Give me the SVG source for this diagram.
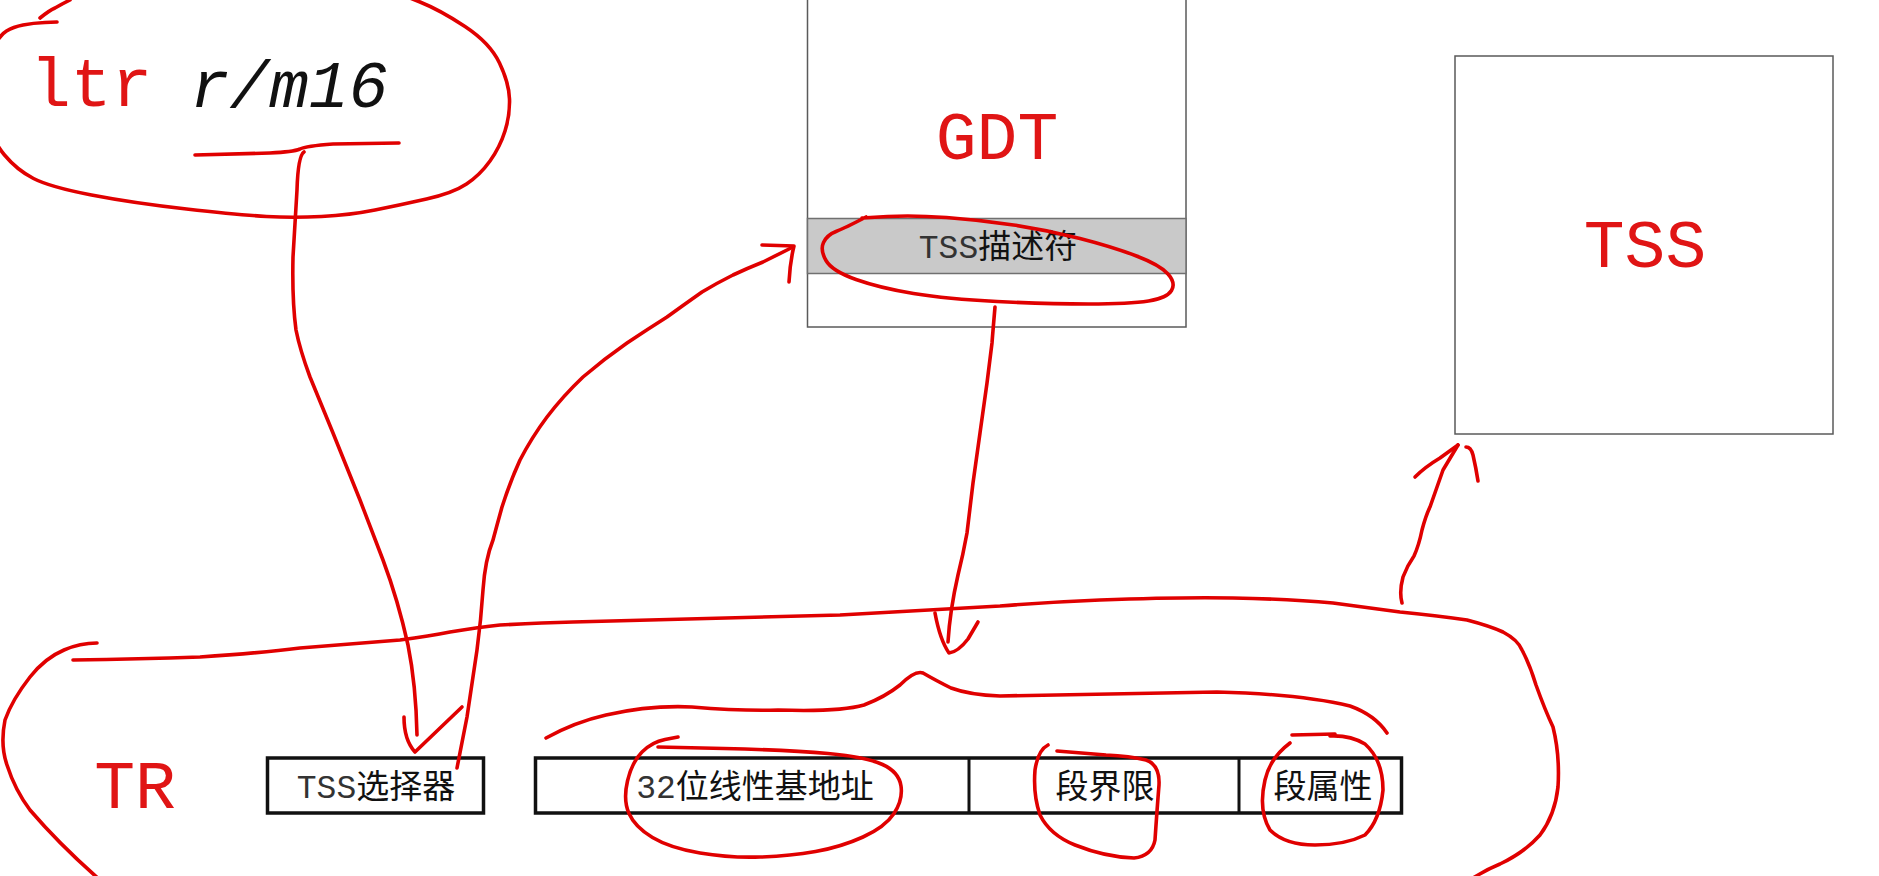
<svg xmlns="http://www.w3.org/2000/svg" width="1879" height="876" viewBox="0 0 1879 876">
<style>
.bg{fill:#ffffff}
.thin{fill:#ffffff;stroke:#5a5a5a;stroke-width:1.5}
.band{fill:#c9c9c9;stroke:#707070;stroke-width:1.5}
.thick{fill:#ffffff;stroke:#111111;stroke-width:3.5}
.div{stroke:#111111;stroke-width:3}
.big{font-family:"Liberation Mono","DejaVu Sans Mono",monospace;fill:#e01515;font-size:68px}
.cell{font-family:"Liberation Mono","Noto Sans CJK SC",monospace;font-size:33px;fill:#111111}
.mono{fill:#333333}
.pen{fill:none;stroke:#e00000;stroke-width:3.6;stroke-linecap:round;stroke-linejoin:round}
</style>
<rect class="bg" x="0" y="0" width="1879" height="876"/>

<g id="ltr-instruction">
  <text class="big" x="30" y="106" font-size="66">ltr</text>
  <text x="190" y="107" font-family="Liberation Mono,monospace" font-style="italic" font-size="66" fill="#111111">r/m16</text>
</g>

<g id="gdt">
  <rect class="thin" x="807.5" y="-5" width="378.5" height="332"/>
  <text class="big" x="997" y="159" text-anchor="middle">GDT</text>
  <rect class="band" x="807.5" y="218.5" width="378.5" height="55"/>
  <text class="cell" x="998" y="258" text-anchor="middle" font-size="34"><tspan class="mono">TSS</tspan>描述符</text>
</g>

<g id="tss">
  <rect class="thin" x="1455" y="56" width="378" height="378"/>
  <text class="big" x="1645" y="267" text-anchor="middle">TSS</text>
</g>

<g id="tr-label">
  <text class="big" x="135" y="808" text-anchor="middle" font-size="72">TR</text>
</g>

<g id="tss-selector">
  <rect class="thick" x="267.5" y="758" width="216" height="55"/>
  <text class="cell" x="376" y="798" text-anchor="middle"><tspan class="mono">TSS</tspan>选择器</text>
</g>

<g id="tr-cache">
  <rect class="thick" x="535.5" y="758" width="866" height="55"/>
  <line class="div" x1="969" y1="758" x2="969" y2="813"/>
  <line class="div" x1="1239" y1="758" x2="1239" y2="813"/>
  <g id="base-address"><text class="cell" x="755" y="798" text-anchor="middle" font-size="34"><tspan class="mono">32</tspan>位线性基地址</text></g>
  <g id="limit"><text class="cell" x="1105" y="798" text-anchor="middle" font-size="34">段界限</text></g>
  <g id="attributes"><text class="cell" x="1323" y="798" text-anchor="middle" font-size="34">段属性</text></g>
</g>

<g id="annotations">
  <path class="pen" d="M40,18 Q50,10 55,8 Q62,4 70,0"/>
  <path class="pen" d="M57,22 L45,22.5 Q33,23 23,25 Q13,27 6.5,31 Q0,35 -7,47.5 Q-14,60 -16,80 Q-18,100 -13,120 Q-8,140 4.5,155 Q17,170 33.5,178.5 Q50,187 91.5,195 Q133,203 186.5,209 Q240,215 266.5,216.5 Q293,218 321.5,216.5 Q350,215 375,210 Q400,205 426.5,199 Q453,193 466.5,184 Q480,175 490,161 Q500,147 505,131 Q510,115 509.5,99 Q509,83 499.5,63 Q490,43 465,26.5 Q440,10 420,2 L400,-6"/>
  <path class="pen" d="M195,155 L270,153 Q293,152 300,149 Q306,146 333,144 L399,143"/>
  <path class="pen" d="M862,218 L887.5,216.5 Q913,215 946.5,217.5 Q980,220 1013.5,225 Q1047,230 1080,238.5 Q1113,247 1136.5,256 Q1160,265 1168,274 Q1176,283 1171.5,290.5 Q1167,298 1148.5,301 Q1130,304 1088.5,304 Q1047,304 997,301.5 Q947,299 913.5,293.5 Q880,288 856,279.5 Q832,271 826,260.5 Q820,250 823.5,242.5 Q827,235 836,231.5 Q845,228 866,217"/>
  <path class="pen" d="M546,738 Q575,722 606,715 Q650,705 692,707 Q740,711 778,710 Q840,712 864,705 Q885,697 900,685 Q915,670 923,673 Q935,680 951,688 Q970,695 1000,696 Q1100,694 1217,692 Q1300,694 1350,706 Q1375,715 1387,733"/>
  <path class="pen" d="M678,737 L665,739.5 Q652,742 642,752 Q632,762 627.5,781 Q623,800 629,813.5 Q635,827 652.5,837.5 Q670,848 700,853 Q730,858 760,857 Q790,856 815.5,851.5 Q841,847 863,837 Q885,827 894,813.5 Q903,800 901,786 Q899,772 882.5,764.5 Q866,757 828,753.5 Q790,750 724,748.5 L658,747"/>
  <path class="pen" d="M1048,745 Q1038,750 1035,770 Q1033,795 1040,815 Q1050,835 1075,845 Q1105,857 1134,858 Q1152,856 1155,840 Q1157,810 1159,785 Q1160,765 1146,760 Q1130,756 1106,755 L1057,751"/>
  <path class="pen" d="M1292,735 L1335,734"/>
  <path class="pen" d="M1290,743 Q1270,758 1265,780 Q1258,810 1270,830 Q1285,845 1315,845 Q1345,845 1365,835 Q1380,820 1383,790 Q1383,760 1365,744 Q1350,735 1330,736"/>
  <path class="pen" d="M73,660 Q140,659 200,657 Q260,653 300,648 L400,640 Q430,636 450,632 Q480,627 500,625 Q540,623 573,622 L840,615 L1000,606 Q1050,602 1100,600 Q1180,597 1233,598 Q1290,599 1333,603 L1400,612 Q1440,616 1467,620 Q1490,626 1503,632 Q1518,640 1522,650 Q1530,665 1536,685 Q1545,710 1553,727 Q1560,755 1558,787 Q1555,815 1540,835 Q1525,852 1500,864 Q1485,870 1470,880"/>
  <path class="pen" d="M97,643 Q80,643 64,650 Q45,658 30,677 Q12,700 5,720 Q0,745 7,765 Q15,790 30,810 Q60,845 100,880"/>
</g>

<g id="connectors">
  <path class="pen" d="M304,152 Q298,156 297,190 L293,257 Q292,300 296,330 Q300,350 310,377 L333,433 L360,500 L383,560 Q398,600 408,645 Q416,685 417,735"/>
  <path class="pen" d="M404,717 Q404,740 415,752 Q440,728 462,707"/>
  <path class="pen" d="M457,768 L467,717 L477,650 Q481,620 483,590 Q485,560 493,540 Q497,525 502,507 Q510,482 520,460 Q532,437 547,417 Q563,396 583,377 Q604,359 627,343 Q648,329 667,317 Q685,304 702,292 Q717,283 733,275 Q748,268 763,262 L793,247"/>
  <path class="pen" d="M762,245 L794,246 Q790,262 789,282"/>
  <path class="pen" d="M995,307 Q993,330 992,343 L987,383 L980,433 L973,483 L967,533 Q963,555 958,575 Q950,610 948,642"/>
  <path class="pen" d="M935,613 Q940,640 949,653 Q958,652 968,639 L978,622"/>
  <path class="pen" d="M1402,603 Q1399,592 1403,577 Q1407,566 1414,556 Q1419,545 1422,530 Q1426,515 1430,507 L1443,470 L1458,445"/>
  <path class="pen" d="M1415,477 Q1425,467 1440,458 L1458,445"/>
  <path class="pen" d="M1466,447 Q1471,447 1473,455 Q1476,468 1478,481"/>
</g>
</svg>
